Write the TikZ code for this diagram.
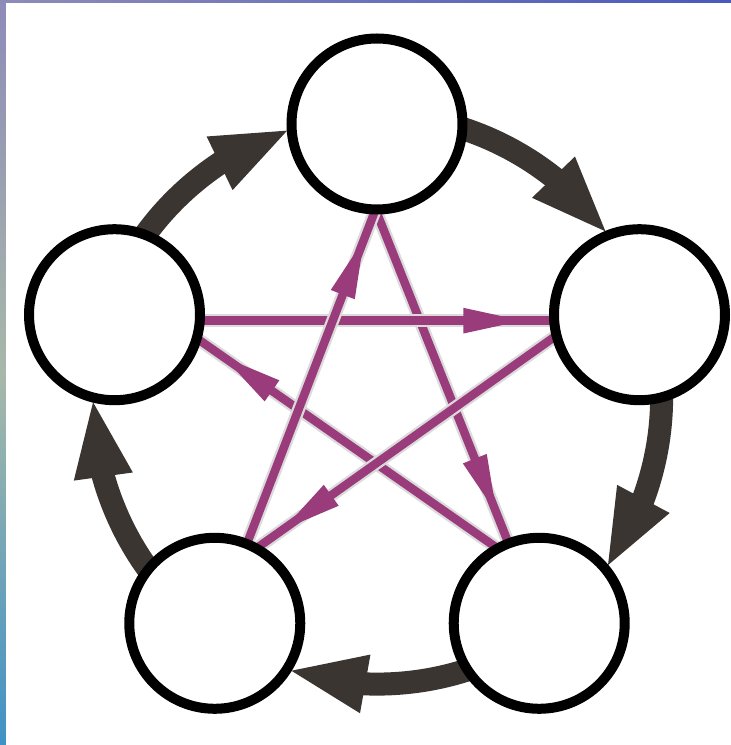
\documentclass[tikz,border=0pt]{standalone}
\usepackage{tikz}
\usetikzlibrary{arrows.meta,bending,decorations.markings,backgrounds}
\definecolor{ringGrey}{HTML}{3B3532}
\definecolor{starPurple}{HTML}{9A3C7C}
\definecolor{frameTop}{HTML}{8E8BB8}
\definecolor{frameMid}{HTML}{A7B8A9}
\definecolor{frameLow}{HTML}{3F92C6}
\definecolor{frameRight}{HTML}{4A5ABC}

\begin{document}
\begin{tikzpicture}[
  elem/.style={circle,draw=black,line width=0.2cm,fill=white,minimum size=3.42cm,inner sep=0pt,outer sep=0pt},
  gen/.style={draw=ringGrey,line width=0.46cm,looseness=0.87,-{Triangle[length=1.6cm,width=1.05cm]}},
  over/.style={color=starPurple,line width=0.17cm,preaction={draw=black!14,line width=0.26cm},
    decoration={markings,mark=at position 0.92 with {\arrow{Triangle[length=1.25cm,width=0.46cm]}}},
    postaction={decorate}}]
\useasboundingbox (-7.54,-6.9) rectangle (7.08,8.0);
\node[elem] (fire) at (90:5.52) {};
\node[elem] (earth) at (18:5.52) {};
\node[elem] (metal) at (-54:5.52) {};
\node[elem] (water) at (-126:5.52) {};
\node[elem] (wood) at (162:5.52) {};
\begin{scope}[on background layer]
\fill[white] (-7.54,-6.9) rectangle (7.08,8.0);
\fill[top color=frameTop,bottom color=frameLow,middle color=frameMid] (-7.54,-6.9) rectangle (-7.42,8.0);
\fill[left color=frameTop,right color=frameRight] (-7.54,7.94) rectangle (7.08,8.0);
% outer ring
\draw[gen] (fire.-3) to[out=-18,in=126] (earth.111);
\draw[gen] (earth.-75) to[out=-90,in=54] (metal.39);
\draw[gen] (metal.-147) to[out=-162,in=-18] (water.-33);
\draw[gen] (water.141) to[out=126,in=-90] (wood.-105);
\draw[gen] (wood.69) to[out=54,in=198] (fire.183);
% star
\draw[over] (fire.-91) -- (metal.111);
\draw[over] (metal.119) -- (wood.-16);
\draw[over] (wood.-4) -- (earth.184);
\draw[over] (earth.194) -- (water.61);
\draw[over] (water.68) -- (fire.-91);
\end{scope}
\end{tikzpicture}
\end{document}
